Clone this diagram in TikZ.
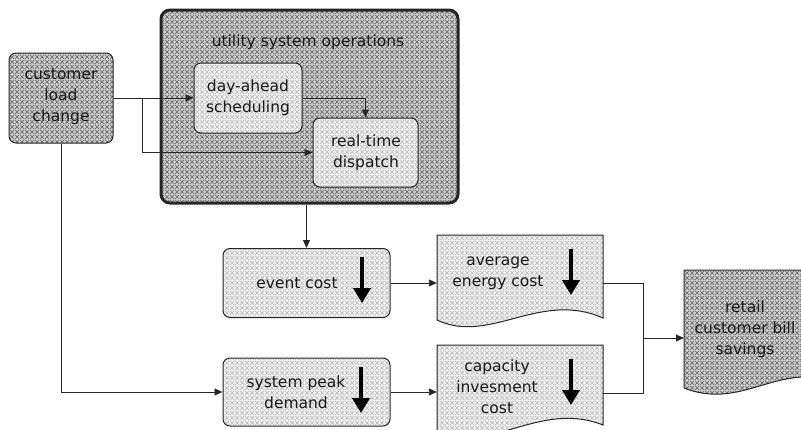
\documentclass[tikz,border=0pt]{standalone}
\usepackage{fontspec}
\setmainfont{DejaVu Sans}
\usetikzlibrary{patterns,patterns.meta,arrows.meta,calc}
\tikzdeclarepattern{
  name=xhatch, type=uncolored,
  bounding box={(0pt,0pt) and (5pt,5pt)},
  tile size={(5pt,5pt)},
  code={
    \draw[line width=0.55pt] (0pt,0pt) -- (5pt,5pt);
    \draw[line width=0.55pt] (0pt,5pt) -- (5pt,0pt);
  }
}
\begin{document}
\begin{tikzpicture}[x=1pt,y=-1pt,
  lightfill/.style={preaction={fill=gray!12}, pattern=xhatch, pattern color=gray!55},
  darkfill/.style={preaction={fill=gray!40}, pattern=xhatch, pattern color=gray!75!black},
  box/.style={draw=black!85, line width=1pt, rounded corners=7pt, inner sep=0pt},
  txt/.style={font=\fontsize{15.5}{21}\selectfont, align=center, inner sep=1pt, text=black!90},
  conn/.style={draw=black!85, line width=0.9pt, -{Triangle[length=8pt,width=7pt]}},
  plain/.style={draw=black!85, line width=0.9pt},
  bigarrow/.style={draw=black, line width=4.5pt, -{Triangle[length=15pt,width=17pt]}},
  ghost/.style={draw=none, inner sep=0pt}
]
\clip (0,0) rectangle (801,429);
\useasboundingbox (0,0) rectangle (801,429);

% outer utility box
\node[box, darkfill, line width=3pt, rounded corners=9pt, minimum width=297pt, minimum height=193pt] (usys) at (309.5,106.5) {};
\node[txt] (ustitle) at (308,42) {utility system operations};

% customer load change
\node[box, darkfill, minimum width=104pt, minimum height=90pt] (clc) at (61,98) {};
\node[txt] (clct) at (61,97) {customer\\load\\change};

% day-ahead scheduling
\node[box, lightfill, minimum width=108pt, minimum height=70pt] (dah) at (248,98) {};
\node[txt] (daht) at (248,98) {day-ahead\\scheduling};

% real-time dispatch
\node[box, lightfill, minimum width=105pt, minimum height=69pt] (rtd) at (365.5,152.5) {};
\node[txt] (rtdt) at (366,153) {real-time\\dispatch};

% event cost
\node[box, lightfill, minimum width=167pt, minimum height=69pt] (ev) at (306.5,283) {};
\node[txt] (evt) at (297,283) {event cost};
\coordinate (eva1) at (362,257);
\coordinate (eva2) at (362,303);
\draw[bigarrow] (eva1) -- (eva2);

% system peak demand
\node[box, lightfill, minimum width=167pt, minimum height=68pt] (spd) at (306.5,392) {};
\node[txt] (spdt) at (296,392) {system peak\\demand};
\coordinate (spa1) at (361,367);
\coordinate (spa2) at (361,413);
\draw[bigarrow] (spa1) -- (spa2);

% average energy cost (document shape)
\filldraw[lightfill, draw=black!85, line width=1pt]
  (437,235) -- (603,235) -- (603,318)
  .. controls (540,290) and (490,345) .. (437,320) -- cycle;
\node[ghost, minimum width=166pt, minimum height=20pt] (aec) at (520,283) {};
\node[txt] (aect) at (498,273.5) {average\\energy cost};
\coordinate (aea1) at (571,249);
\coordinate (aea2) at (571,295);
\draw[bigarrow] (aea1) -- (aea2);

% capacity invesment cost (document shape)
\filldraw[lightfill, draw=black!85, line width=1pt]
  (437,345) -- (603,345) -- (603,425)
  .. controls (540,400) and (490,455) .. (437,432) -- cycle;
\node[ghost, minimum width=166pt, minimum height=20pt] (cic) at (520,393) {};
\node[txt] (cict) at (497,387) {capacity\\invesment\\cost};
\coordinate (cia1) at (571,359);
\coordinate (cia2) at (571,405);
\draw[bigarrow] (cia1) -- (cia2);

% retail customer bill savings (document shape)
\filldraw[darkfill, draw=black!85, line width=1pt]
  (684,270) -- (830,270) -- (830,380)
  .. controls (775,365) and (740,410) .. (684,388) -- cycle;
\node[ghost, minimum width=20pt, minimum height=20pt, anchor=west] (rcb) at (684,338) {};
\node[txt] (rcbt) at (745,329) {retail\\customer bill\\savings};

% connectors
\coordinate (br) at (142,98);
\draw[conn] (clc.east) -- (dah.west);
\draw[conn] (br) |- (rtd.west);
\draw[conn] (dah.east) -| (rtd.north);
\draw[conn] (usys.south -| ev.north) -- (ev.north);
\draw[conn] (clc.south) |- (spd.west);
\draw[conn] (ev.east) -- (ev.east -| aec.west);
\draw[conn] (spd.east) -- (spd.east -| cic.west);
\coordinate (jn) at (643,338);
\draw[plain] (aec.east) -| (jn);
\draw[plain] (cic.east) -| (jn);
\draw[conn] (jn) -- (rcb.west);
\end{tikzpicture}
\end{document}
